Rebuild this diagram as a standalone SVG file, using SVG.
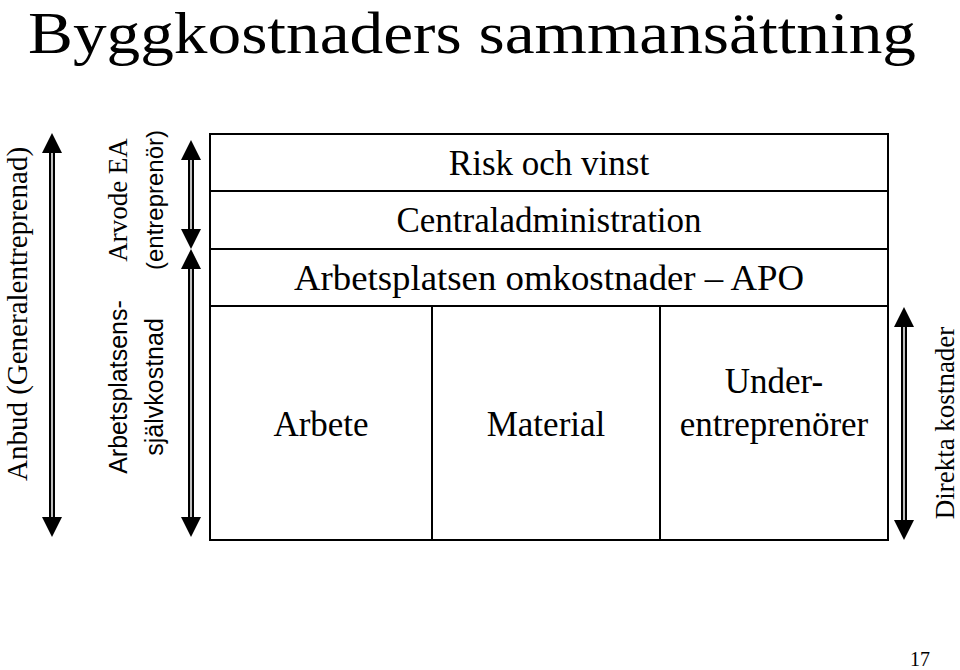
<svg xmlns="http://www.w3.org/2000/svg" width="960" height="670" viewBox="0 0 960 670">
<style>
.t{font-family:"Liberation Serif","Times New Roman",serif;fill:#000}
.s{font-family:"Liberation Sans",Arial,sans-serif;fill:#000}
.box{fill:#fff;stroke:#000;stroke-width:2}
.o{stroke:#000;stroke-width:6;fill:none}
.i{stroke:#fff;stroke-width:1.5;fill:none}
.h{fill:#000}
</style>
<rect width="960" height="670" fill="#fff"/>
<text class="t" x="28" y="53" font-size="60" textLength="888" lengthAdjust="spacingAndGlyphs">Byggkostnaders sammansättning</text>
<g id="risk"><rect class="box" x="210" y="134" width="678" height="57"/><text class="t" x="549" y="175" font-size="35" text-anchor="middle">Risk och vinst</text></g>
<g id="central"><rect class="box" x="210" y="191" width="678" height="58"/><text class="t" x="549" y="232" font-size="35" text-anchor="middle">Centraladministration</text></g>
<g id="apo"><rect class="box" x="210" y="249" width="678" height="57"/><text class="t" x="549" y="290" font-size="35" text-anchor="middle" textLength="510" lengthAdjust="spacingAndGlyphs">Arbetsplatsen omkostnader – APO</text></g>
<g id="arbete"><rect class="box" x="210" y="306" width="222" height="234"/><text class="t" x="321" y="436" font-size="35" text-anchor="middle">Arbete</text></g>
<g id="material"><rect class="box" x="432" y="306" width="228" height="234"/><text class="t" x="546" y="436" font-size="35" text-anchor="middle">Material</text></g>
<g id="under"><rect class="box" x="660" y="306" width="228" height="234"/><text class="t" x="774" y="393" font-size="35" text-anchor="middle">Under-</text><text class="t" x="774" y="436" font-size="35" text-anchor="middle">entreprenörer</text></g>
<g id="connectors">
<path class="o" d="M52 150V520"/><path class="i" d="M52 150V520"/>
<path class="h" d="M42 153L52 133L62 153ZM42 517L52 537L62 517Z"/>
<path class="o" d="M191 155V232"/><path class="i" d="M191 155V232"/>
<path class="h" d="M181 160L191 140L201 160ZM181 229L191 249L201 229Z"/>
<path class="o" d="M191 266V522"/><path class="i" d="M191 266V522"/>
<path class="h" d="M181 269L191 249L201 269ZM181 517L191 537L201 517Z"/>
<path class="o" d="M904 322V525"/><path class="i" d="M904 322V525"/>
<path class="h" d="M894 327L904 307L914 327ZM894 520L904 540L914 520Z"/>
</g>
<g id="labels">
<text class="t" transform="translate(27 314) rotate(-90)" font-size="29" text-anchor="middle">Anbud (Generalentreprenad)</text>
<text class="t" transform="translate(127 200) rotate(-90)" font-size="27" text-anchor="middle">Arvode EA</text>
<text class="s" transform="translate(163 200) rotate(-90)" font-size="24" text-anchor="middle">(entreprenör)</text>
<text class="s" transform="translate(127 387) rotate(-90)" font-size="25" text-anchor="middle">Arbetsplatsens-</text>
<text class="s" transform="translate(163 387) rotate(-90)" font-size="25" text-anchor="middle">självkostnad</text>
<text class="t" transform="translate(954 423) rotate(-90)" font-size="27" text-anchor="middle">Direkta kostnader</text>
</g>
<text class="t" x="920" y="666" font-size="20" text-anchor="middle">17</text>
</svg>
